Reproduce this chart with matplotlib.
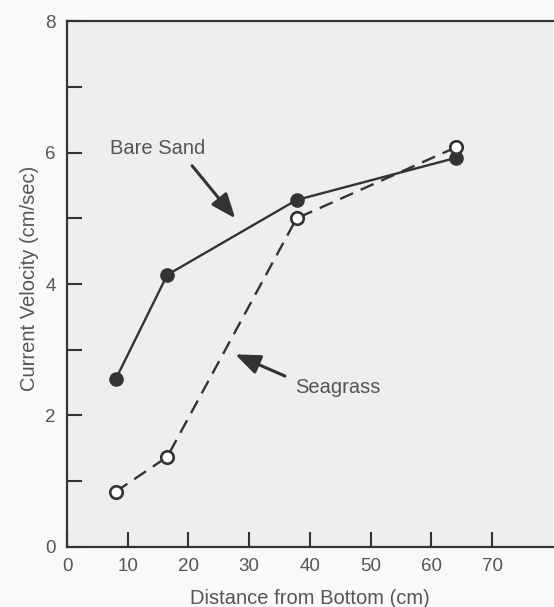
import matplotlib
matplotlib.use('Agg')
import matplotlib.pyplot as plt

# values
distance = [8, 16.5, 37.8, 64]
bare_sand = [2.55, 4.14, 5.28, 5.92]
seagrass = [0.84, 1.37, 5.0, 6.08]

x_ticks = [0, 10, 20, 30, 40, 50, 60, 70]
y_ticks = [0, 1, 2, 3, 4, 5, 6, 7, 8]
y_labels = ['0', '', '2', '', '4', '', '6', '', '8']

plt.rcParams['font.family'] = ['Liberation Sans', 'DejaVu Sans']
ink = '#333333'
txt = '#555555'

fig = plt.figure(figsize=(5.54, 6.07), dpi=100, facecolor='#f9f9f9')
ax = fig.add_axes([0.121, 0.099, 0.877, 0.866])
ax.set_facecolor('#eeeeee')

ax.plot(distance, bare_sand, color=ink, lw=1.7, marker='o', ms=9.5,
        mfc=ink, mec=ink, zorder=3)
ax.plot(distance, seagrass, color=ink, lw=1.7, ls=(0, (6, 3.5)), marker='o',
        ms=9, mfc='white', mec=ink, mew=1.9, zorder=4)

ax.set_xlim(0, 80)
ax.set_ylim(0, 8)
ax.set_xticks(x_ticks)
ax.set_yticks(y_ticks)
ax.set_yticklabels(y_labels)
ax.tick_params(direction='in', length=11, width=1.5, color=ink,
               labelsize=13.5, labelcolor=txt, pad=8)

for s in ['left', 'bottom', 'top']:
    ax.spines[s].set_linewidth(1.6)
    ax.spines[s].set_color(ink)
ax.spines['right'].set_visible(False)

ax.set_xlabel('Distance from Bottom (cm)', fontsize=14.5, color=txt, labelpad=10)
ax.set_ylabel('Current Velocity (cm/sec)', fontsize=14.5, color=txt)
ax.yaxis.set_label_coords(-0.058, 0.51)

head = '-|>,head_length=0.6,head_width=0.24'
ax.annotate('Bare Sand', xy=(27.7, 5.0), xytext=(7.1, 6.07),
            fontsize=14.5, color=txt, va='center', ha='left',
            arrowprops=dict(arrowstyle=head, color=ink, lw=2.2,
                            mutation_scale=25, shrinkA=5, shrinkB=0,
                            relpos=(0.79, 0.0)))
ax.annotate('Seagrass', xy=(27.7, 2.93), xytext=(37.6, 2.43),
            fontsize=14.5, color=txt, va='center', ha='left',
            arrowprops=dict(arrowstyle=head, color=ink, lw=2.2,
                            mutation_scale=25, shrinkA=6, shrinkB=0,
                            relpos=(0.0, 0.85)))

plt.savefig('out.png', dpi=100, facecolor=fig.get_facecolor())
